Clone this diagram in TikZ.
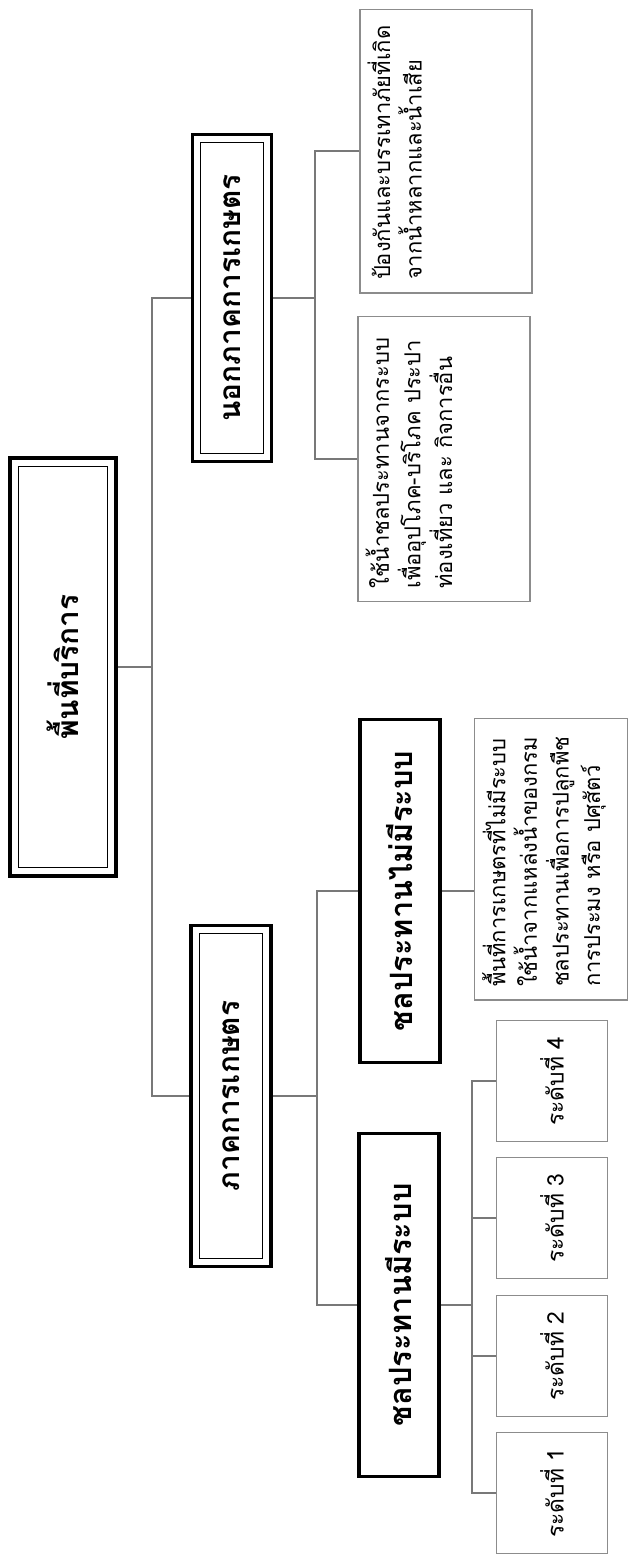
\documentclass[tikz,border=0pt]{standalone}
\usepackage{fontspec}
\setmainfont{Loma}[Script=Thai]
\usepackage{tikz}
\usetikzlibrary{fit}
\definecolor{linegray}{RGB}{120,120,120}
\definecolor{boxgray}{RGB}{140,140,140}
\newcommand{\boxtext}[3]{\parbox[c][#2][t]{#1}{\raggedright #3}}
\tikzset{
  % กล่องหัวข้อ
  title/.style={draw, line width=2.2pt, rotate=90, align=center,
    font=\fontsize{17}{21}\selectfont\bfseries},
  inframe/.style={draw, line width=0.6pt, inner sep=-0.2cm},
  group/.style={draw, line width=2pt, rotate=90, align=center,
    minimum width=6.86cm, minimum height=1.6cm, font=\fontsize{17.5}{21}\selectfont\bfseries},
  % กล่องคำอธิบาย
  desc/.style={draw=boxgray, line width=0.6pt, rotate=90, inner xsep=0.26cm, inner ysep=0.15cm,
    font=\fontsize{12.5}{18}\selectfont},
  level/.style={draw=boxgray, line width=0.6pt, rotate=90, minimum width=2.42cm,
    minimum height=2.22cm, font=\fontsize{13}{16}\selectfont},
  link/.style={draw=linegray, line width=0.6pt}
}

\begin{document}
\begin{tikzpicture}[x=0.02cm, y=-0.02cm]
  \useasboundingbox (0,0) rectangle (644,1556);
  % ระดับบน
  \node[title, minimum width=8.36cm, minimum height=2.12cm] (root) at (63,667) {พื้นที่บริการ};
  \node[title, minimum width=6.54cm, minimum height=1.58cm] (nonagri) at (232,298) {นอกภาคการเกษตร};
  \node[title, minimum width=6.82cm, minimum height=1.6cm] (agri) at (231,1096) {ภาคการเกษตร};
  \foreach \n in {root,nonagri,agri}
    \node[inframe, fit=(\n)] (\n-in) {};
  % ชลประทาน
  \node[group] (unsys) at (400,891) {ชลประทานไม่มีระบบ};
  \node[group] (sys) at (399,1305) {ชลประทานมีระบบ};
  % คำอธิบาย
  \node[desc] (prevent) at (446,151) {\boxtext{5.16cm}{3.14cm}{ป้องกันและบรรเทาภัยที่เกิด\\จากน้ำหลากและน้ำเสีย}};
  \node[desc] (use) at (444,459) {\boxtext{5.18cm}{3.14cm}{ใช้น้ำชลประทานจากระบบ\\เพื่ออุปโภค-บริโภค ประปา\\ท่องเที่ยว และ กิจการอื่น}};
  \node[desc] (unsysdesc) at (551,859) {\boxtext{5.12cm}{2.76cm}{พื้นที่การเกษตรที่ไม่มีระบบ\\ใช้น้ำจากแหล่งน้ำของกรม\\ชลประทานเพื่อการปลูกพืช\\การประมง หรือ ปศุสัตว์}};
  \foreach \i/\y in {1/1493,2/1356,3/1218,4/1081}
    \node[level] (lv\i) at (552,\y) {ระดับที่ \i};
  % เส้นเชื่อม
  \coordinate (j1) at (152,667);
  \coordinate (j2) at (317,1096);
  \coordinate (j3) at (315,298);
  \coordinate (j4) at (472,1305);
  \draw[link] (nonagri.north) -| (j1) |- (agri.north);
  \draw[link] (root.south) -- (j1);
  \draw[link] (prevent.north) -| (j3) |- (use.north);
  \draw[link] (nonagri.south) -- (j3);
  \draw[link] (unsys.north) -| (j2) |- (sys.north);
  \draw[link] (agri.south) -- (j2);
  \draw[link] (unsys.south) -- (unsys.south -| unsysdesc.north);
  \draw[link] (lv4.north) -| (j4) |- (lv1.north);
  \draw[link] (sys.south) -- (j4);
  \foreach \n in {lv2,lv3}
    \draw[link] (\n.north) -- (\n.north -| j4);
\end{tikzpicture}
\end{document}
